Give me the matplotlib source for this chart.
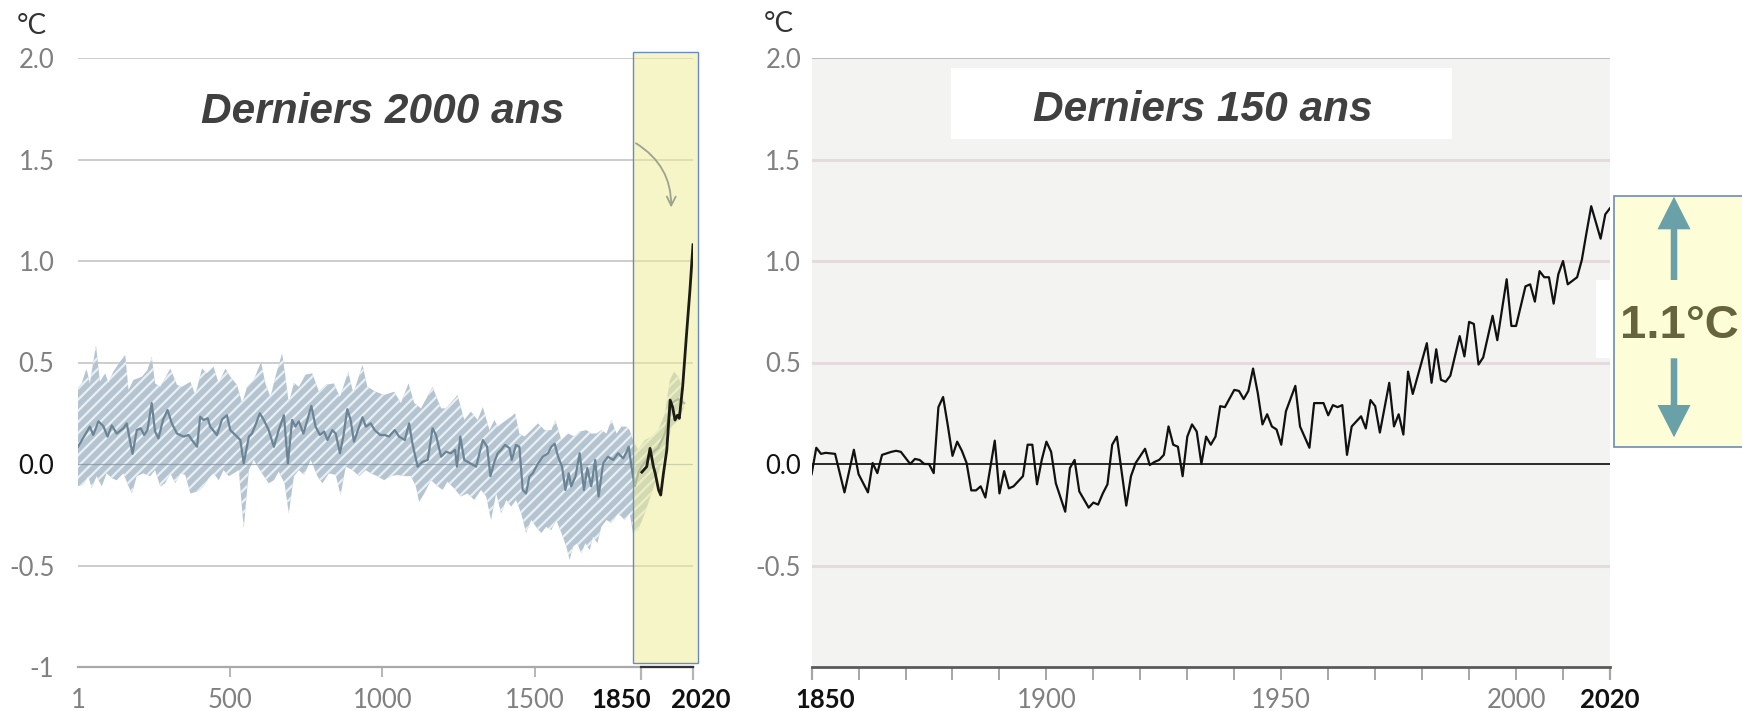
import matplotlib
matplotlib.use("Agg")
import matplotlib.pyplot as plt
import numpy as np
from matplotlib.patches import Rectangle, FancyArrow
from matplotlib.transforms import ScaledTranslation

# reconstruction, years 1-2000 (decadal)
rec_years = [1, 24, 40, 51, 68, 84, 98, 112, 128, 150,
             161, 180, 194, 207, 218, 229, 243, 254, 265, 280,
             295, 309, 326, 348, 364, 375, 392, 402, 413, 427,
             435, 457, 474, 490, 501, 523, 534, 545, 562, 572,
             583, 598, 611, 627, 644, 660, 677, 690, 704, 715,
             726, 741, 754, 767, 781, 795, 809, 820, 836, 847,
             861, 872, 885, 896, 907, 920, 935, 946, 962, 975,
             993, 1008, 1022, 1041, 1055, 1074, 1088, 1099, 1116, 1132,
             1149, 1165, 1176, 1193, 1209, 1225, 1239, 1245, 1256, 1269,
             1289, 1308, 1330, 1344, 1355, 1368, 1379, 1390, 1403, 1418,
             1425, 1439, 1450, 1461, 1472, 1483, 1494, 1511, 1527, 1544,
             1555, 1566, 1577, 1590, 1601, 1612, 1620, 1634, 1648, 1662,
             1673, 1686, 1699, 1710, 1725, 1741, 1758, 1774, 1791, 1802,
             1809, 1818, 1829, 1840, 1851, 1867, 1884, 1906, 1928, 1950,
             1972, 1991]
rec_vals = [0.085, 0.143, 0.184, 0.143, 0.21, 0.187, 0.135, 0.19, 0.15, 0.176,
            0.20, 0.05, 0.167, 0.176, 0.143, 0.167, 0.30, 0.16, 0.126, 0.217,
            0.266, 0.20, 0.15, 0.135, 0.143, 0.118, 0.085, 0.233, 0.217, 0.225,
            0.184, 0.143, 0.22, 0.24, 0.167, 0.135, 0.118, 0.003, 0.135, 0.15,
            0.19, 0.25, 0.217, 0.167, 0.085, 0.167, 0.24, 0.003, 0.217, 0.184,
            0.21, 0.15, 0.217, 0.286, 0.184, 0.143, 0.16, 0.118, 0.167, 0.15,
            0.053, 0.135, 0.27, 0.217, 0.11, 0.167, 0.23, 0.184, 0.20, 0.167,
            0.143, 0.143, 0.135, 0.167, 0.135, 0.118, 0.20, 0.10, -0.013, 0.011,
            0.02, 0.176, 0.143, 0.036, 0.06, 0.053, 0.07, -0.013, 0.135, 0.02,
            0.003, -0.013, 0.118, 0.085, -0.06, 0.011, 0.053, 0.07, 0.094, 0.077,
            0.02, 0.094, 0.085, -0.128, -0.145, -0.062, -0.046, 0.003, 0.036, 0.053,
            0.085, 0.10, 0.036, -0.013, -0.128, -0.046, -0.11, -0.062, 0.053, -0.128,
            -0.02, -0.11, 0.02, -0.16, 0.003, 0.036, 0.02, 0.053, 0.028, 0.06,
            0.085, -0.013, -0.11, -0.046, -0.013, 0.02, 0.053, 0.08, 0.15, 0.30,
            0.32, 0.30]

# 5-95 % range of the reconstruction
up_years = [1, 13, 29, 40, 60, 73, 90, 101, 117, 139,
            156, 167, 183, 211, 229, 243, 254, 271, 304, 326,
            342, 370, 386, 408, 424, 446, 463, 485, 501, 523,
            540, 556, 578, 602, 616, 633, 649, 671, 682, 693,
            710, 726, 748, 770, 792, 814, 841, 861, 888, 905,
            935, 951, 979, 1006, 1039, 1061, 1086, 1105, 1127, 1165,
            1193, 1209, 1247, 1269, 1291, 1313, 1330, 1352, 1368, 1379,
            1401, 1423, 1436, 1450, 1467, 1489, 1511, 1533, 1555, 1568,
            1588, 1610, 1631, 1648, 1670, 1686, 1703, 1719, 1736, 1752,
            1769, 1785, 1802, 1812, 1823, 1840, 1862, 1884, 1906, 1928,
            1944, 1958, 1972, 1983, 1991]
up_vals = [0.373, 0.397, 0.47, 0.397, 0.586, 0.405, 0.447, 0.40, 0.455, 0.504,
           0.537, 0.365, 0.414, 0.43, 0.463, 0.529, 0.397, 0.38, 0.47, 0.39,
           0.38, 0.405, 0.34, 0.47, 0.447, 0.48, 0.397, 0.47, 0.43, 0.39,
           0.30, 0.38, 0.414, 0.504, 0.397, 0.33, 0.43, 0.545, 0.43, 0.30,
           0.40, 0.38, 0.44, 0.447, 0.356, 0.39, 0.397, 0.33, 0.455, 0.348,
           0.488, 0.38, 0.356, 0.34, 0.356, 0.30, 0.397, 0.30, 0.274, 0.38,
           0.274, 0.274, 0.34, 0.217, 0.258, 0.217, 0.28, 0.167, 0.217, 0.184,
           0.21, 0.233, 0.25, 0.15, 0.135, 0.167, 0.20, 0.167, 0.167, 0.217,
           0.118, 0.15, 0.135, 0.16, 0.167, 0.15, 0.15, 0.167, 0.15, 0.217,
           0.15, 0.184, 0.184, 0.167, 0.118, 0.07, 0.118, 0.135, 0.167, 0.25,
           0.414, 0.455, 0.43, 0.38, 0.28]
low_years = [1, 19, 35, 46, 62, 79, 95, 112, 128, 150,
             167, 178, 194, 216, 238, 254, 271, 287, 304, 320,
             337, 353, 370, 392, 413, 430, 446, 463, 479, 496,
             512, 529, 545, 562, 578, 594, 611, 627, 644, 660,
             679, 693, 710, 726, 743, 765, 787, 803, 825, 847,
             863, 880, 902, 924, 946, 962, 984, 1006, 1028, 1050,
             1072, 1094, 1110, 1121, 1138, 1160, 1182, 1198, 1214, 1236,
             1258, 1280, 1302, 1324, 1341, 1357, 1374, 1390, 1407, 1423,
             1439, 1456, 1472, 1489, 1505, 1522, 1538, 1555, 1571, 1588,
             1604, 1615, 1626, 1640, 1653, 1667, 1681, 1692, 1706, 1719,
             1736, 1752, 1774, 1796, 1812, 1823, 1840, 1862, 1884, 1906,
             1928, 1950, 1972, 1991]
low_vals = [-0.11, -0.10, -0.06, -0.12, -0.06, -0.11, -0.046, -0.07, -0.08, -0.046,
            -0.11, -0.145, -0.06, -0.046, -0.06, -0.03, -0.11, -0.095, -0.046, -0.095,
            -0.046, -0.054, -0.145, -0.136, -0.11, -0.07, -0.046, -0.08, -0.03, -0.06,
            -0.046, -0.03, -0.317, -0.03, 0.02, -0.02, -0.06, -0.095, -0.08, -0.038,
            -0.095, -0.243, -0.06, -0.03, -0.054, 0.02, -0.06, -0.095, -0.046, -0.054,
            -0.153, -0.013, -0.03, -0.06, -0.03, -0.046, -0.06, -0.08, -0.06, -0.054,
            -0.06, -0.06, -0.11, -0.186, -0.145, -0.08, -0.11, -0.128, -0.087, -0.12,
            -0.16, -0.145, -0.177, -0.128, -0.16, -0.276, -0.145, -0.243, -0.177, -0.21,
            -0.177, -0.243, -0.34, -0.276, -0.31, -0.34, -0.31, -0.325, -0.276, -0.34,
            -0.407, -0.473, -0.407, -0.39, -0.44, -0.39, -0.424, -0.358, -0.39, -0.31,
            -0.276, -0.29, -0.243, -0.276, -0.243, -0.34, -0.325, -0.243, -0.145, -0.046,
            0.053, 0.184, 0.217, 0.28]

# observed, decadal (left panel)
dec_years = [1852, 1868, 1879, 1890, 1896, 1907, 1914, 1923, 1934, 1945,
             1953, 1961, 1969, 1975, 1986, 1999, 2010, 2020]
dec_vals = [-0.04, -0.013, 0.077, -0.013, -0.046, -0.128, -0.153, -0.046, 0.07, 0.315,
            0.28, 0.217, 0.24, 0.225, 0.38, 0.644, 0.857, 1.08]

# observed, annual 1850-2020 (right panel)
obs_years = [1850, 1851, 1852, 1853, 1855, 1857, 1859,
             1860, 1862, 1863, 1864, 1865, 1867, 1868, 1869,
             1871, 1872, 1873, 1874, 1875, 1876, 1877, 1878, 1879,
             1880, 1881, 1882, 1883, 1884, 1885, 1886, 1887, 1889,
             1890, 1891, 1892, 1893, 1895, 1896, 1897, 1898, 1899,
             1900, 1901, 1902, 1904, 1905, 1906, 1907, 1909,
             1910, 1911, 1912, 1913, 1914, 1915, 1917, 1918, 1919,
             1921, 1922, 1923, 1924, 1925, 1926, 1927, 1928, 1929,
             1930, 1931, 1932, 1933, 1934, 1935, 1936, 1937, 1938,
             1940, 1941, 1942, 1943, 1944, 1945, 1946, 1947, 1948, 1949,
             1950, 1951, 1953, 1954, 1956, 1957, 1959,
             1960, 1961, 1962, 1963, 1964, 1965, 1967, 1968, 1969,
             1970, 1971, 1973, 1974, 1975, 1976, 1977, 1978,
             1981, 1982, 1983, 1984, 1985, 1986, 1988, 1989,
             1990, 1991, 1992, 1993, 1995, 1996, 1998, 1999,
             2000, 2002, 2003, 2004, 2005, 2006, 2007, 2008, 2009,
             2010, 2011, 2013, 2014, 2015, 2016, 2018, 2019,
             2020]
obs_vals = [-0.05, 0.08, 0.05, 0.055, 0.05, -0.14, 0.07,
            -0.05, -0.14, 0.005, -0.045, 0.045, 0.06, 0.065, 0.06,
            0.0, 0.025, 0.02, 0.0, 0.0, -0.045, 0.28, 0.33, 0.19,
            0.04, 0.11, 0.065, 0.005, -0.13, -0.13, -0.11, -0.165, 0.115,
            -0.145, -0.035, -0.12, -0.11, -0.06, 0.095, 0.095, -0.10, 0.02,
            0.11, 0.06, -0.095, -0.235, -0.02, 0.02, -0.135, -0.215,
            -0.19, -0.20, -0.145, -0.10, 0.095, 0.135, -0.205, -0.06, 0.005,
            0.075, -0.005, 0.01, 0.02, 0.045, 0.185, 0.095, 0.085, -0.06,
            0.135, 0.195, 0.16, 0.0, 0.135, 0.095, 0.135, 0.285, 0.28,
            0.365, 0.36, 0.32, 0.36, 0.47, 0.35, 0.195, 0.245, 0.185, 0.17,
            0.095, 0.26, 0.385, 0.185, 0.08, 0.30, 0.30,
            0.24, 0.29, 0.28, 0.29, 0.045, 0.185, 0.235, 0.175, 0.315,
            0.285, 0.155, 0.40, 0.185, 0.245, 0.145, 0.455, 0.345,
            0.595, 0.40, 0.565, 0.415, 0.405, 0.435, 0.63, 0.53,
            0.70, 0.69, 0.49, 0.525, 0.73, 0.61, 0.91, 0.68,
            0.68, 0.875, 0.885, 0.80, 0.95, 0.92, 0.92, 0.79, 0.935,
            1.0, 0.885, 0.92, 1.005, 1.14, 1.27, 1.11, 1.23,
            1.26]

left_yticks = [-1, -0.5, 0, 0.5, 1, 1.5, 2]
left_ylabels = ["-1", "-0.5", "0.0", "0.5", "1.0", "1.5", "2.0"]
right_yticks = [-0.5, 0, 0.5, 1, 1.5, 2]
right_ylabels = ["-0.5", "0.0", "0.5", "1.0", "1.5", "2.0"]
left_xticks = [1, 500, 1000, 1500, 1850, 2020]
right_xticks = list(range(1850, 2021, 10))
right_xlabels = {1850: "1850", 1900: "1900", 1950: "1950", 2000: "2000", 2020: "2020"}

plt.rcParams["font.family"] = ["Lato", "DejaVu Sans"]
plt.rcParams["hatch.linewidth"] = 1.6

W, H = 1742, 711
fig = plt.figure(figsize=(W / 100, H / 100), dpi=100)


def px_box(x0, y0, x1, y1):
    return [x0 / W, 1 - y1 / H, (x1 - x0) / W, (y1 - y0) / H]


GRAY = "#808080"
BOLD_FAM = ["Liberation Sans", "DejaVu Sans"]

# ---------------- left panel: last 2000 years
ax1 = fig.add_axes(px_box(78, 58, 693, 667))
ax1.set_xlim(1, 2020)
ax1.set_ylim(-1, 2)
for s in ["top", "right", "left"]:
    ax1.spines[s].set_visible(False)
ax1.spines["bottom"].set_color("#a9a9a9")
ax1.spines["bottom"].set_linewidth(1.6)
for v in [2.0, 1.5, 1.0, 0.5, -0.5]:
    ax1.axhline(v, color="#c9c9c9", lw=1.3, zorder=1)

ax1.fill(np.r_[up_years, low_years[::-1]], np.r_[up_vals, low_vals[::-1]],
         facecolor="#b4c4d0", edgecolor="#e9eff3", hatch="///", lw=0, zorder=2)
ax1.axhline(0, color="#7f8f9b", lw=0.9, alpha=0.7, zorder=3)
ax1.plot(rec_years, rec_vals, color="#6b8596", lw=1.6, zorder=4)

# highlighted 1850-2020 window
ax1.add_patch(Rectangle((1824, -0.979), 213.4, 3.009, facecolor="#eded9b",
                        alpha=0.55, lw=0, zorder=5, clip_on=False))
ax1.add_patch(Rectangle((1824, -0.979), 213.4, 3.009, facecolor="none",
                        edgecolor="#6a8bbf", lw=1.0, zorder=5, clip_on=False))
ax1.plot(dec_years, dec_vals, color="#1c1c14", lw=2.0, zorder=6)
ax1.annotate("", xy=(1948, 1.25), xytext=(1825, 1.587),
             arrowprops=dict(arrowstyle="->", connectionstyle="arc3,rad=-0.3",
                             color="#9ca38c", lw=1.3, mutation_scale=16),
             annotation_clip=False, zorder=7)
ax1.plot([1850, 2020], [-1, -1], color="#333333", lw=1.6, clip_on=False, zorder=6)

ax1.set_xticks(left_xticks)
ax1.set_xticklabels([str(t) for t in left_xticks])
ax1.tick_params(axis="x", length=9.4, width=1.4, color="#b5b5b5",
                labelsize=18.5, labelcolor=GRAY, pad=5.5)
ax1.set_yticks(left_yticks)
ax1.set_yticklabels(left_ylabels)
ax1.tick_params(axis="y", length=0, pad=17, labelsize=18.5, labelcolor=GRAY)

ticks = ax1.xaxis.get_major_ticks()
ticks[0].tick1line.set_visible(False)
for t in ticks[1:4]:
    t.tick1line.set_markersize(7.2)
for t, dx in zip(ticks[4:], [-20, 8]):
    t.tick1line.set_color("#333333")
    t.tick1line.set_markeredgewidth(1.6)
    t.label1.set_color("#111111")
    t.label1.set_fontweight("bold")
    t.label1.set_transform(t.label1.get_transform() + ScaledTranslation(dx / 100, 0, fig.dpi_scale_trans))
ax1.get_yticklabels()[2].set_color("#111111")

# ---------------- right panel: last 150 years
ax2 = fig.add_axes(px_box(811.6, 58, 1610, 667))
ax2.set_facecolor("#f3f3f1")
ax2.set_xlim(1850, 2020)
ax2.set_ylim(-1, 2)
for s in ["top", "right", "left"]:
    ax2.spines[s].set_visible(False)
ax2.spines["bottom"].set_color("#5a5a5a")
ax2.spines["bottom"].set_linewidth(2)
ax2.axhline(2.0, color="#bdbdbd", lw=1.5, zorder=1)
for v in [1.5, 1.0, 0.5, -0.5]:
    ax2.axhline(v, color="#e4dbde", lw=2.2, zorder=1)
ax2.axhline(0, color="#1a1a1a", lw=1.3, zorder=2)
ax2.plot(obs_years, obs_vals, color="#111111", lw=1.6, zorder=4)

ax2.set_xticks(right_xticks)
ax2.set_xticklabels([right_xlabels.get(t, "") for t in right_xticks])
ax2.tick_params(axis="x", length=9.4, width=1.4, color="#a6a6a6",
                labelsize=18.5, labelcolor=GRAY, pad=5.5)
ax2.set_yticks(right_yticks)
ax2.set_yticklabels(right_ylabels)
ax2.tick_params(axis="y", length=0, pad=7.5, labelsize=18.5, labelcolor=GRAY)
ax2.get_yticklabels()[1].set_color("#111111")

rticks = ax2.xaxis.get_major_ticks()
for t, dx in [(rticks[0], 14), (rticks[-1], 0)]:
    t.tick1line.set_color("#222222")
    t.tick1line.set_markeredgewidth(1.6)
    t.label1.set_color("#111111")
    t.label1.set_fontweight("bold")
    t.label1.set_transform(t.label1.get_transform() + ScaledTranslation(dx / 100, 0, fig.dpi_scale_trans))

# ---------------- overlay in pixel coordinates for titles and callouts
over = fig.add_axes([0, 0, 1, 1], zorder=10)
over.set_xlim(0, W)
over.set_ylim(H, 0)
over.axis("off")

over.text(32, 34, "°C", ha="center", va="baseline", fontsize=20, color="#333333")
over.text(779, 32, "°C", ha="center", va="baseline", fontsize=20, color="#333333")

over.text(383, 123, "Derniers 2000 ans", family=BOLD_FAM, weight="bold", style="italic",
          fontsize=30.5, color="#404040", ha="center", va="baseline")
over.add_patch(Rectangle((951, 68), 501, 71, facecolor="white", edgecolor="none"))
over.text(1203, 121, "Derniers 150 ans", family=BOLD_FAM, weight="bold", style="italic",
          fontsize=30.5, color="#404040", ha="center", va="baseline")

over.add_patch(Rectangle((1596, 280), 18.3, 77.7, facecolor="white", edgecolor="none"))
over.add_patch(Rectangle((1614.3, 195.7), 140, 251.6, facecolor="#fdfdd7",
                         edgecolor="#6d8db2", lw=1.2))
teal = "#6aa0a8"
over.add_patch(FancyArrow(1674, 280, 0, -83.3, width=6.5, head_width=33, head_length=32.6,
                          length_includes_head=True, color=teal, lw=0))
over.add_patch(FancyArrow(1674, 358.3, 0, 79, width=6.5, head_width=33, head_length=32.3,
                          length_includes_head=True, color=teal, lw=0))
over.text(1679, 338, "1.1°C", family=BOLD_FAM, weight="bold", fontsize=34,
          color="#66643c", ha="center", va="baseline")

fig.savefig("out.png", dpi=100)
